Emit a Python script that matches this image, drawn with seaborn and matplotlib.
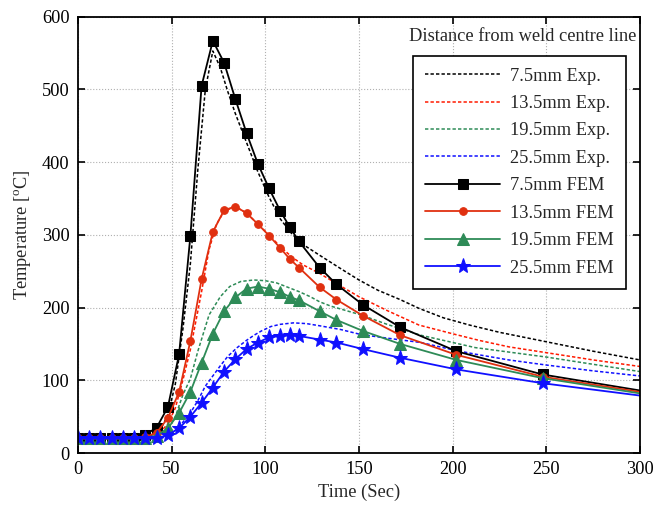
import numpy as np
import pandas as pd
import matplotlib
matplotlib.use('Agg')
import matplotlib.pyplot as plt
import seaborn as sns

# FEM results (markers), last point at 300 s has no marker
t_fem = [0, 6, 12, 18, 24, 30, 36, 42, 48, 54, 60, 66, 72, 78, 84, 90, 96, 102,
         108, 113, 118, 129, 138, 152, 172, 202, 248, 300]
fem_75 = [20, 20, 20, 20, 20, 21, 25, 35, 63, 136, 298, 505, 567, 537, 487, 440, 398, 364,
          333, 311, 291, 255, 232, 204, 173, 140, 108, 86]
fem_135 = [20, 20, 20, 20, 20, 20, 22, 28, 48, 84, 154, 239, 304, 334, 339, 330, 315, 299,
           282, 267, 255, 228, 211, 189, 162, 135, 105, 84]
fem_195 = [20, 20, 20, 20, 20, 20, 21, 24, 34, 55, 84, 124, 164, 195, 214, 226, 229, 226,
           221, 215, 210, 195, 183, 168, 150, 128, 103, 82]
fem_255 = [20, 20, 20, 20, 20, 20, 20, 20, 25, 34, 50, 69, 90, 112, 129, 143, 152, 159,
           161, 162, 161, 156, 152, 143, 131, 115, 96, 79]

# Experimental curves (dashed)
t_exp_75 = [0, 36, 40, 44, 48, 52, 56, 60, 64, 68, 72, 76, 80, 84, 90, 96, 102, 108, 114,
            120, 129, 140, 150, 160, 172, 182, 195, 209, 225, 250, 275, 300]
exp_75 = [20, 21, 24, 32, 52, 95, 170, 260, 390, 500, 553, 530, 497, 467, 427, 387, 352, 322, 302,
          287, 272, 254, 238, 224, 211, 199, 186, 176, 166, 153, 140, 128]
t_exp_135 = [0, 36, 40, 44, 48, 52, 56, 60, 66, 70, 74, 78, 82, 86, 90, 96, 102, 108, 114,
             120, 129, 140, 150, 165, 182, 200, 214, 230, 250, 275, 300]
exp_135 = [20, 21, 23, 29, 40, 62, 100, 142, 222, 280, 315, 332, 337, 336, 330, 315, 300, 284, 270,
           259, 247, 230, 215, 196, 176, 164, 155, 146, 138, 128, 119]
t_exp_195 = [0, 36, 42, 48, 52, 56, 60, 64, 67, 70, 76, 81, 87, 94, 100, 106, 111, 118, 124,
             129, 135, 151, 165, 183, 212, 250, 275, 300]
exp_195 = [20, 21, 23, 33, 50, 80, 102, 140, 165, 190, 215, 229, 236, 238, 237, 234, 229, 222, 215,
           208, 202, 190, 177, 162, 145, 132, 122, 112]
t_exp_255 = [0, 42, 48, 54, 60, 64, 68, 72, 76, 80, 85, 90, 94, 98, 103, 108, 115, 122, 129,
             140, 151, 165, 183, 200, 212, 230, 250, 275, 300]
exp_255 = [20, 20, 22, 36, 55, 72, 92, 106, 120, 133, 145, 155, 162, 168, 174, 177, 179, 178, 175,
           170, 163, 158, 152, 142, 136, 128, 121, 113, 106]

labels_exp = ['7.5mm Exp.', '13.5mm Exp.', '19.5mm Exp.', '25.5mm Exp.']
labels_fem = ['7.5mm FEM', '13.5mm FEM', '19.5mm FEM', '25.5mm FEM']

c_black = '#000000'
c_red_exp = '#ff1a00'
c_red = '#e03010'
c_green = '#2e8b57'
c_blue = '#1010ff'
fs = 13.2

sns.set_style('ticks')
plt.rcParams['font.family'] = ['Liberation Serif', 'DejaVu Serif']
plt.rcParams['mathtext.fontset'] = 'custom'
plt.rcParams['mathtext.rm'] = 'Liberation Serif'
plt.rcParams['xtick.direction'] = 'in'
plt.rcParams['ytick.direction'] = 'in'

fig = plt.figure(figsize=(6.66, 5.09), dpi=100)
ax = fig.add_axes([0.117, 0.110, 0.844, 0.857])

dash = (0, (2.2, 1.4))
exp_sets = [(t_exp_75, exp_75, c_black), (t_exp_135, exp_135, c_red_exp),
            (t_exp_195, exp_195, c_green), (t_exp_255, exp_255, c_blue)]
for (tt, yy, c), lab in zip(exp_sets, labels_exp):
    sns.lineplot(x=tt, y=yy, ax=ax, color=c, linestyle=dash, linewidth=1.1, label=lab)

mk_every = list(range(len(t_fem) - 1))
fem_sets = [(fem_75, c_black, 's', 7), (fem_135, c_red, 'o', 5.5),
            (fem_195, c_green, '^', 8.5), (fem_255, c_blue, '*', 11)]
for (yy, c, m, ms), lab in zip(fem_sets, labels_fem):
    sns.lineplot(x=t_fem, y=yy, ax=ax, color=c, linewidth=1.3, marker=m, markersize=ms,
                 markeredgecolor=c, markerfacecolor=c, markevery=mk_every, label=lab)

ax.set_xlim(0, 300)
ax.set_ylim(0, 600)
ax.set_xticks(np.arange(0, 301, 50))
ax.set_yticks(np.arange(0, 601, 100))
ax.grid(True, color='#b0b0b0', linestyle=':', linewidth=0.8)
ax.tick_params(axis='both', which='both', top=True, right=True, labelsize=fs,
               length=5, width=1.2, colors='black', pad=6)
for s in ax.spines.values():
    s.set_linewidth(1.3)
    s.set_color('black')

ax.set_xlabel('Time (Sec)', fontsize=fs, labelpad=4)
ax.set_ylabel(r'Temperature [$^{\rm o}$C]', fontsize=fs, labelpad=6)

ax.text(0.792, 0.954, 'Distance from weld centre line', transform=ax.transAxes,
        ha='center', va='center', fontsize=fs)

handles, labs = ax.get_legend_handles_labels()
leg = ax.legend(handles, labs, loc='upper right', bbox_to_anchor=(0.975, 0.911),
                borderaxespad=0, fontsize=fs, handlelength=4.1, labelspacing=0.57,
                handletextpad=0.55, borderpad=0.65, fancybox=False, framealpha=1,
                edgecolor='black', numpoints=1)
leg.get_frame().set_linewidth(1.2)

fig.savefig('out.png', dpi=100)
